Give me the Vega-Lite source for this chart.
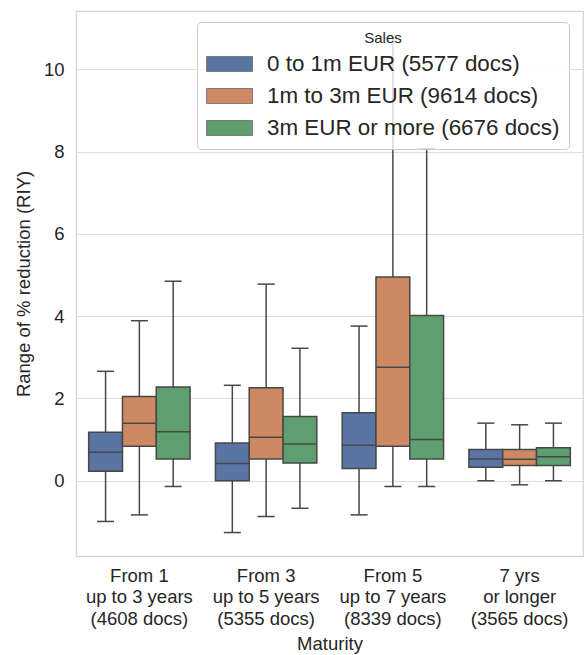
{
  "$schema": "https://vega.github.io/schema/vega-lite/v6.json",
  "width": 507,
  "height": 545,
  "autosize": {"type": "none"},
  "padding": {"left": 76, "top": 11, "right": 1, "bottom": 99},
  "background": "white",
  "config": {
    "font": "Liberation Sans",
    "view": {"stroke": "#d4d4d4", "strokeWidth": 1.2},
    "axis": {
      "labelFont": "Liberation Sans",
      "titleFont": "Liberation Sans",
      "labelFontSize": 18.5,
      "titleFontSize": 18.5,
      "labelColor": "#262626",
      "titleColor": "#262626",
      "titleFontWeight": "normal",
      "ticks": false,
      "domain": false,
      "gridColor": "#dedede",
      "gridWidth": 1.2
    },
    "legend": {
      "labelFont": "Liberation Sans",
      "titleFont": "Liberation Sans"
    }
  },
  "data": {
    "values": [
      {"maturity": "From 1|up to 3 years|(4608 docs)", "sales": "0 to 1m EUR (5577 docs)", "lo": -0.99, "q1": 0.23, "med": 0.69, "q3": 1.18, "hi": 2.66},
      {"maturity": "From 1|up to 3 years|(4608 docs)", "sales": "1m to 3m EUR (9614 docs)", "lo": -0.83, "q1": 0.84, "med": 1.40, "q3": 2.05, "hi": 3.89},
      {"maturity": "From 1|up to 3 years|(4608 docs)", "sales": "3m EUR or more (6676 docs)", "lo": -0.14, "q1": 0.53, "med": 1.19, "q3": 2.28, "hi": 4.85},
      {"maturity": "From 3|up to 5 years|(5355 docs)", "sales": "0 to 1m EUR (5577 docs)", "lo": -1.26, "q1": 0.0, "med": 0.42, "q3": 0.92, "hi": 2.32},
      {"maturity": "From 3|up to 5 years|(5355 docs)", "sales": "1m to 3m EUR (9614 docs)", "lo": -0.87, "q1": 0.53, "med": 1.06, "q3": 2.26, "hi": 4.78},
      {"maturity": "From 3|up to 5 years|(5355 docs)", "sales": "3m EUR or more (6676 docs)", "lo": -0.67, "q1": 0.43, "med": 0.89, "q3": 1.56, "hi": 3.22},
      {"maturity": "From 5|up to 7 years|(8339 docs)", "sales": "0 to 1m EUR (5577 docs)", "lo": -0.83, "q1": 0.30, "med": 0.86, "q3": 1.65, "hi": 3.76},
      {"maturity": "From 5|up to 7 years|(8339 docs)", "sales": "1m to 3m EUR (9614 docs)", "lo": -0.14, "q1": 0.84, "med": 2.76, "q3": 4.95, "hi": 10.76},
      {"maturity": "From 5|up to 7 years|(8339 docs)", "sales": "3m EUR or more (6676 docs)", "lo": -0.14, "q1": 0.53, "med": 1.00, "q3": 4.02, "hi": 8.07},
      {"maturity": "7 yrs|or longer|(3565 docs)", "sales": "0 to 1m EUR (5577 docs)", "lo": 0.0, "q1": 0.33, "med": 0.53, "q3": 0.76, "hi": 1.40},
      {"maturity": "7 yrs|or longer|(3565 docs)", "sales": "1m to 3m EUR (9614 docs)", "lo": -0.10, "q1": 0.37, "med": 0.52, "q3": 0.76, "hi": 1.36},
      {"maturity": "7 yrs|or longer|(3565 docs)", "sales": "3m EUR or more (6676 docs)", "lo": 0.0, "q1": 0.37, "med": 0.58, "q3": 0.80, "hi": 1.40}
    ]
  },
  "encoding": {
    "x": {
      "field": "maturity",
      "type": "nominal",
      "sort": null,
      "title": "Maturity",
      "scale": {"paddingInner": 0.2, "paddingOuter": 0.1},
      "axis": {
        "labelAngle": 0,
        "labelExpr": "split(datum.label, '|')",
        "labelLineHeight": 21.5,
        "labelPadding": 10,
        "titlePadding": 7,
        "grid": false
      }
    },
    "xOffset": {
      "field": "sales",
      "type": "nominal",
      "sort": null,
      "scale": {"paddingInner": 0, "paddingOuter": 0}
    }
  },
  "layer": [
    {
      "mark": {"type": "rule", "color": "#474747", "strokeWidth": 1.5},
      "encoding": {
        "y": {
          "field": "lo",
          "type": "quantitative",
          "title": "Range of % reduction (RIY)",
          "scale": {"domain": [-1.83, 11.42], "nice": false, "zero": false},
          "axis": {"values": [0, 2, 4, 6, 8, 10], "labelPadding": 12, "titlePadding": 10, "grid": true}
        },
        "y2": {"field": "hi"}
      }
    },
    {
      "mark": {"type": "bar", "stroke": "#474747", "strokeWidth": 1.5},
      "encoding": {
        "y": {"field": "q1", "type": "quantitative"},
        "y2": {"field": "q3"},
        "color": {
          "field": "sales",
          "type": "nominal",
          "sort": null,
          "scale": {
            "domain": ["0 to 1m EUR (5577 docs)", "1m to 3m EUR (9614 docs)", "3m EUR or more (6676 docs)"],
            "range": ["#5875a4", "#cc8963", "#5f9e6e"]
          },
          "legend": {
            "title": "Sales",
            "orient": "none",
            "legendX": 121,
            "legendY": 11,
            "titleFontSize": 15,
            "titleFontWeight": "normal",
            "titleColor": "#262626",
            "titleAnchor": "middle",
            "titlePadding": 6,
            "labelFontSize": 22.4,
            "labelColor": "#262626",
            "labelLimit": 500,
            "labelOffset": 37,
            "symbolType": "M-1,-0.65H3V0.65H-1Z",
            "symbolSize": 529,
            "symbolStrokeColor": "#6a6a6a",
            "symbolStrokeWidth": 0.8,
            "rowPadding": 8,
            "padding": 9,
            "fillColor": "rgba(255,255,255,0.8)",
            "strokeColor": "#cccccc",
            "cornerRadius": 4
          }
        }
      }
    },
    {
      "mark": {"type": "tick", "color": "#474747", "thickness": 1.5, "size": 33.8, "opacity": 1},
      "encoding": {"y": {"field": "med", "type": "quantitative"}}
    },
    {
      "mark": {"type": "tick", "color": "#474747", "thickness": 1.5, "size": 17, "opacity": 1},
      "encoding": {"y": {"field": "lo", "type": "quantitative"}}
    },
    {
      "mark": {"type": "tick", "color": "#474747", "thickness": 1.5, "size": 17, "opacity": 1},
      "encoding": {"y": {"field": "hi", "type": "quantitative"}}
    }
  ]
}
